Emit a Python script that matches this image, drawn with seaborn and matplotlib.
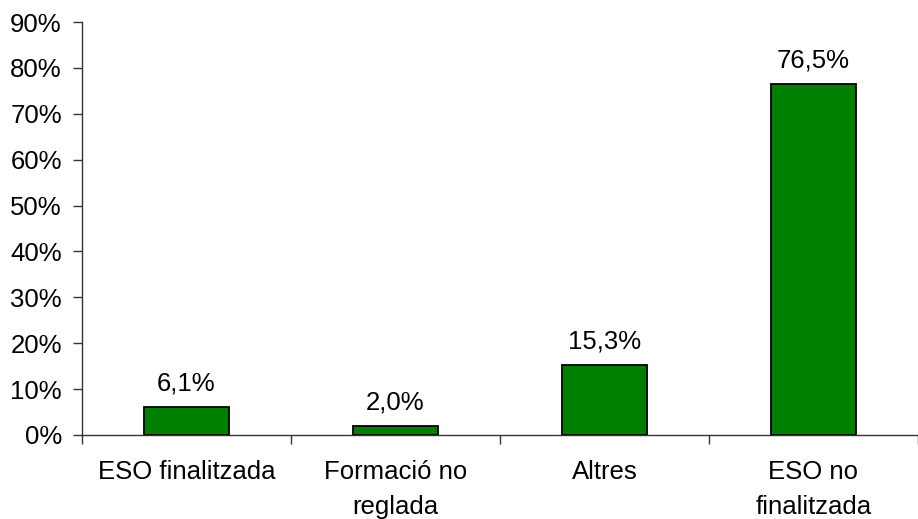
import matplotlib
matplotlib.use("Agg")
import matplotlib.pyplot as plt
import numpy as np
import pandas as pd
import seaborn as sns

categories = ["ESO finalitzada", "Formació no\nreglada", "Altres", "ESO no\nfinalitzada"]
values = [6.1, 2.0, 15.3, 76.5]
labels = ["6,1%", "2,0%", "15,3%", "76,5%"]
yticks = [0, 10, 20, 30, 40, 50, 60, 70, 80, 90]

sns.set_style("white")
plt.rcParams["font.family"] = ["Liberation Sans", "DejaVu Sans"]
plt.rcParams["text.color"] = "black"
plt.rcParams["xtick.color"] = "#333333"
plt.rcParams["ytick.color"] = "#333333"
plt.rcParams["xtick.labelcolor"] = "black"
plt.rcParams["ytick.labelcolor"] = "black"

FS = 18.5

df = pd.DataFrame({"cat": categories, "val": values})

fig = plt.figure(figsize=(9.18, 5.19), dpi=100)
ax = fig.add_axes([0.0893, 0.162, 0.9107, 0.7956])

sns.barplot(data=df, x="cat", y="val", ax=ax, color="#008000", saturation=1,
            width=0.41, edgecolor="black", linewidth=1.3)

for i, (v, lab) in enumerate(zip(values, labels)):
    ax.annotate(lab, xy=(i, v), xytext=(0, 8), textcoords="offset points",
                ha="center", va="bottom", fontsize=FS, color="black")

ax.set_ylim(0, 90)
ax.set_xlim(-0.5, 3.5)
ax.set_yticks(yticks)
ax.set_yticklabels([f"{t}%" for t in yticks], fontsize=FS)

# category labels at centres, tick marks at boundaries
ax.set_xticks(np.arange(len(categories)))
ax.set_xticklabels(categories, fontsize=FS, linespacing=1.6)
ax.tick_params(axis="x", which="major", bottom=False, length=0, pad=18)
ax.set_xticks(np.arange(len(categories) + 1) - 0.5, minor=True)
ax.tick_params(axis="x", which="minor", bottom=True, length=6.5, width=1, direction="out")
ax.tick_params(axis="y", left=True, length=6.5, width=1, direction="out", pad=8)

ax.set_xlabel("")
ax.set_ylabel("")
for s in ["top", "right"]:
    ax.spines[s].set_visible(False)
for s in ["left", "bottom"]:
    ax.spines[s].set_color("#333333")
    ax.spines[s].set_linewidth(1)

fig.savefig("out.png", dpi=100)
